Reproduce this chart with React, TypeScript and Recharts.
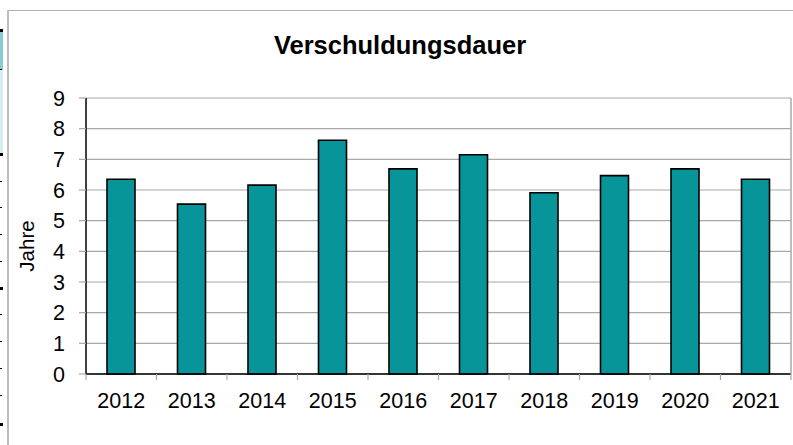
import React from 'react';
import { BarChart, Bar, XAxis, YAxis, CartesianGrid, Label } from 'recharts';

const years = ['2012', '2013', '2014', '2015', '2016', '2017', '2018', '2019', '2020', '2021'];
const values = [6.35, 5.54, 6.16, 7.62, 6.69, 7.15, 5.91, 6.47, 6.69, 6.35];
const yTicks = [0, 1, 2, 3, 4, 5, 6, 7, 8, 9];
const stripMarks = [30, 70, 154, 182, 208, 235, 262, 288, 315, 342, 369, 396, 424];
const thickMarks = [30, 154, 288, 424];

const data = years.map((year, i) => ({ year, value: values[i] }));

const FONT = '"Liberation Sans", Arial, sans-serif';
const GRID = '#a8a8a8';
const X_TICK_MARGIN = 19;
const X_TICK_LEN = 6;
const TICK_FONT = 21.5;

const XTick = (props: any) => {
  const { x, y, payload, width, visibleTicksCount, index } = props;
  const count = visibleTicksCount || years.length;
  const half = (Number(width) || 705) / count / 2;
  const axisY = y - X_TICK_MARGIN;
  return (
    <g>
      <line x1={x - half} x2={x - half} y1={axisY} y2={axisY + X_TICK_LEN} stroke={GRID} strokeWidth={1.2} />
      {index === count - 1 && (
        <line x1={x + half} x2={x + half} y1={axisY} y2={axisY + X_TICK_LEN} stroke={GRID} strokeWidth={1.2} />
      )}
      <text x={x} y={y} dy="0.71em" textAnchor="middle" fontSize={TICK_FONT} fontFamily={FONT} fill="#000">
        {payload.value}
      </text>
    </g>
  );
};

export default function App() {
  return (
    <div style={{ position: 'absolute', left: 0, top: 0, width: 793, height: 445, background: '#fff', overflow: 'hidden', fontFamily: FONT }}>
      {/* left strip artifacts */}
      <div style={{ position: 'absolute', left: 0, top: 30, width: 3, height: 40, background: '#86cbcf' }} />
      <div style={{ position: 'absolute', left: 0, top: 70, width: 3, height: 84, background: '#d6ecef' }} />
      {stripMarks.map((y) => (
        <div key={y} style={{ position: 'absolute', left: 0, top: y - 1, width: thickMarks.includes(y) ? 3 : 2, height: thickMarks.includes(y) ? 3 : 1, background: '#000' }} />
      ))}
      {/* outer frame */}
      <div style={{ position: 'absolute', left: 7, top: 10, width: 786, height: 440, borderLeft: '2px solid #bdbdbd', borderTop: '1px solid #b0b0b0', boxSizing: 'border-box' }} />
      <div style={{ position: 'absolute', left: 0, top: 33, width: 800, textAlign: 'center', fontSize: 25.5, fontWeight: 'bold', lineHeight: 1, color: '#000' }}>
        Verschuldungsdauer
      </div>
      <div style={{ position: 'absolute', left: 0, top: 0 }}>
        <BarChart width={793} height={445} data={data} margin={{ top: 98, right: 0, left: 0, bottom: 0 }}>
          <CartesianGrid xAxisId="cat" yAxisId="left" vertical={false} stroke={GRID} strokeWidth={1.2} />
          <XAxis
            xAxisId="cat"
            dataKey="year"
            height={71}
            axisLine={{ stroke: '#000', strokeWidth: 1.5 }}
            tickLine={false}
            tickSize={0}
            tickMargin={X_TICK_MARGIN}
            tick={<XTick />}
            interval={0}
          />
          <YAxis
            yAxisId="left"
            width={86}
            domain={[0, 9]}
            ticks={yTicks}
            interval={0}
            axisLine={{ stroke: '#000', strokeWidth: 1.5 }}
            tickLine={{ stroke: GRID, strokeWidth: 1.2 }}
            tickSize={7}
            tickMargin={14}
            tick={{ fontSize: TICK_FONT, fill: '#000', fontFamily: FONT }}
          >
            <Label
              content={(props: any) => {
                const vb = props.viewBox || {};
                const cx = (vb.x ?? 0) + 34;
                const cy = (vb.y ?? 98) + (vb.height ?? 276) / 2 + 10;
                return (
                  <text x={cx} y={cy} transform={`rotate(-90 ${cx} ${cy})`} textAnchor="middle" fontSize={20.5} fontFamily={FONT} fill="#000">
                    Jahre
                  </text>
                );
              }}
            />
          </YAxis>
          <YAxis
            yAxisId="right"
            orientation="right"
            width={2}
            domain={[0, 9]}
            tick={false}
            tickLine={false}
            axisLine={{ stroke: GRID, strokeWidth: 1.5 }}
          />
          <Bar
            xAxisId="cat"
            yAxisId="left"
            dataKey="value"
            fill="#08959a"
            stroke="#000"
            strokeWidth={1.6}
            barSize={28}
            isAnimationActive={false}
          />
        </BarChart>
      </div>
    </div>
  );
}
